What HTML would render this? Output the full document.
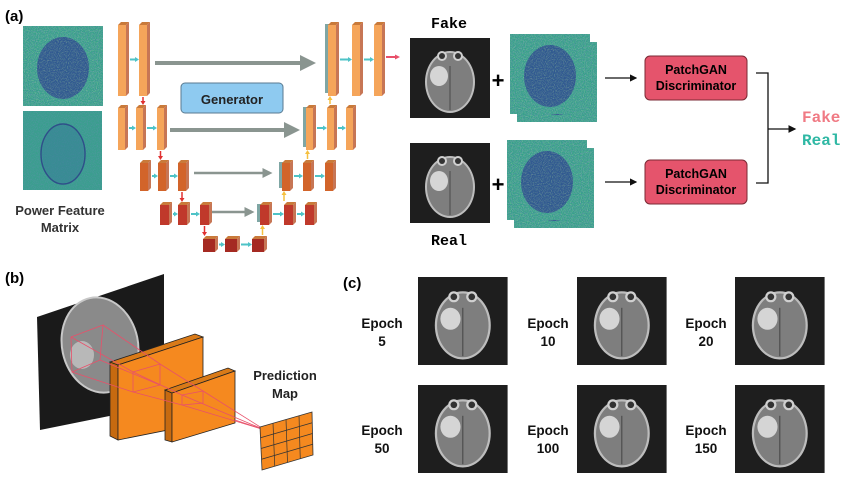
<!DOCTYPE html>
<html><head><meta charset="utf-8"><style>
html,body{margin:0;padding:0;background:#fff;width:850px;height:490px;overflow:hidden}
svg{display:block;font-family:"Liberation Sans",sans-serif}
.b{font-weight:bold}
</style></head><body>
<svg id="s" width="850" height="490" viewBox="0 0 850 490">
<defs>
<filter id="noise" x="0" y="0" width="100%" height="100%">
<feTurbulence type="fractalNoise" baseFrequency="0.9" numOctaves="2" seed="3"/>
<feColorMatrix type="matrix" values="0 0 0 0 0.55  0 0 0 0 0.85  0 0 0 0 0.35  0 0 0 1.6 -0.7"/>
</filter>
<filter id="noise2" x="0" y="0" width="100%" height="100%">
<feTurbulence type="fractalNoise" baseFrequency="1.1" numOctaves="2" seed="11"/>
<feColorMatrix type="matrix" values="0 0 0 0 0.2  0 0 0 0 0.25  0 0 0 0 0.55  0 0 0 1.8 -0.8"/>
</filter>
<marker id="ah" markerWidth="6" markerHeight="6" refX="5" refY="3" orient="auto"><path d="M0,0 L6,3 L0,6 z" fill="#111"/></marker>
<marker id="ahg" markerWidth="4" markerHeight="4" refX="3" refY="2" orient="auto"><path d="M0,0 L4,2 L0,4 z" fill="#8a9590"/></marker>
<g id="brain">
<rect x="0" y="0" width="80" height="80" fill="#1e1e1e"/>
<ellipse cx="40" cy="44" rx="25" ry="31" fill="#bdbdbd"/>
<ellipse cx="40" cy="44" rx="23" ry="29" fill="#7e7e7e"/>
<ellipse cx="32" cy="18" rx="5" ry="5" fill="#d0d0d0"/><ellipse cx="48" cy="18" rx="5" ry="5" fill="#d0d0d0"/>
<ellipse cx="32" cy="18" rx="3" ry="3" fill="#333"/><ellipse cx="48" cy="18" rx="3" ry="3" fill="#333"/>
<ellipse cx="29" cy="38" rx="9" ry="10" fill="#d5d5d5"/>
<line x1="40" y1="28" x2="40" y2="72" stroke="#4a4a4a" stroke-width="1"/>
</g>
<g id="noisyB">
<rect width="80" height="80" fill="#35a08a"/>
<rect width="80" height="80" filter="url(#noise2)"/>
<ellipse cx="40" cy="42" rx="26" ry="31" fill="#2c4390" opacity="0.75"/>
<rect width="80" height="80" filter="url(#noise)" opacity="0.55"/>
</g>
</defs>

<!-- Panel a -->
<text x="5" y="21" class="b" font-size="15">(a)</text>
<g transform="translate(23,26)"><use href="#noisyB"/></g>
<g transform="translate(23,111)">
<rect width="79" height="79" fill="#3a9e8e"/>
<rect width="79" height="79" filter="url(#noise2)" opacity="0.6"/>
<ellipse cx="40" cy="43" rx="21" ry="29" fill="#357a98" opacity="0.5"/>
<ellipse cx="40" cy="43" rx="22" ry="30" fill="none" stroke="#2f4f8a" stroke-width="1.5"/>
</g>
<text x="60" y="215" text-anchor="middle" class="b" font-size="13" fill="#333">Power Feature</text>
<text x="60" y="232" text-anchor="middle" class="b" font-size="13" fill="#333">Matrix</text>

<g id="unet"></g>
<rect x="181" y="83" width="102" height="30" rx="4" fill="#8ecaf0" stroke="#5a7a90" stroke-width="1"/>
<text x="232" y="104" text-anchor="middle" class="b" font-size="13" fill="#222">Generator</text>

<g transform="translate(410,38)"><use href="#brain"/></g>
<text x="449" y="28" text-anchor="middle" font-family="Liberation Mono" class="b" font-size="15">Fake</text>
<text x="498" y="88" text-anchor="middle" class="b" font-size="22">+</text>
<g transform="translate(517,42)"><use href="#noisyB"/></g>
<g transform="translate(510,34)"><use href="#noisyB"/></g>
<line x1="605" y1="78" x2="636" y2="78" stroke="#111" stroke-width="1.2" marker-end="url(#ah)"/>
<rect x="645" y="56" width="102" height="44" rx="5" fill="#e5546c" stroke="#7a2a35"/>
<text x="696" y="74" text-anchor="middle" class="b" font-size="12.5">PatchGAN</text>
<text x="696" y="90" text-anchor="middle" class="b" font-size="12.5">Discriminator</text>

<g transform="translate(410,143)"><use href="#brain"/></g>
<text x="449" y="245" text-anchor="middle" font-family="Liberation Mono" class="b" font-size="15">Real</text>
<text x="498" y="192" text-anchor="middle" class="b" font-size="22">+</text>
<g transform="translate(514,148)"><use href="#noisyB"/></g>
<g transform="translate(507,140)"><use href="#noisyB"/></g>
<line x1="605" y1="182" x2="636" y2="182" stroke="#111" stroke-width="1.2" marker-end="url(#ah)"/>
<rect x="645" y="160" width="102" height="44" rx="5" fill="#e5546c" stroke="#7a2a35"/>
<text x="696" y="178" text-anchor="middle" class="b" font-size="12.5">PatchGAN</text>
<text x="696" y="194" text-anchor="middle" class="b" font-size="12.5">Discriminator</text>
<path d="M756,73 H768 V183 H756" fill="none" stroke="#111" stroke-width="1.3"/>
<line x1="768" y1="129" x2="795" y2="129" stroke="#111" stroke-width="1.3" marker-end="url(#ah)"/>
<text x="802" y="122" font-family="Liberation Mono" class="b" font-size="16" fill="#f07a84">Fake</text>
<text x="802" y="145" font-family="Liberation Mono" class="b" font-size="16" fill="#2fb8a4">Real</text>

<!-- Panel b -->
<text x="5" y="283" class="b" font-size="15">(b)</text>
<polygon points="37,317 164,274 164,405 40,430" fill="#1a1a1a"/>
<ellipse cx="100" cy="345" rx="38" ry="48" transform="rotate(-12 100 345)" fill="#8a8a8a" stroke="#c8c8c8" stroke-width="2"/>
<ellipse cx="82" cy="355" rx="12" ry="14" fill="#b8b8b8"/>
<polygon points="110,362 118,365 118,440 110,436" fill="#c66a10" stroke="#222" stroke-width="0.8"/>
<polygon points="110,362 195,334 203,337 118,365" fill="#d97a18" stroke="#222" stroke-width="0.8"/>
<polygon points="118,365 203,337 203,423 118,440" fill="#f5891f" stroke="#222" stroke-width="0.8"/>
<polygon points="165,390 172,393 172,442 165,440" fill="#c66a10" stroke="#222" stroke-width="0.8"/>
<polygon points="165,390 228,368 235,371 172,393" fill="#d97a18" stroke="#222" stroke-width="0.8"/>
<polygon points="172,393 235,371 235,423 172,442" fill="#f5891f" stroke="#222" stroke-width="0.8"/>
<g stroke="#e8506a" stroke-width="0.8" fill="none">
<polygon points="71,337 103,325 100,360 72,372"/>
<line x1="71" y1="337" x2="133" y2="372"/><line x1="103" y1="325" x2="160" y2="364"/><line x1="72" y1="372" x2="133" y2="392"/><line x1="100" y1="360" x2="160" y2="385"/>
<polygon points="133,372 160,364 160,385 133,392"/>
<line x1="133" y1="372" x2="182" y2="395"/><line x1="160" y1="364" x2="203" y2="391"/><line x1="133" y1="392" x2="182" y2="405"/>
<polygon points="182,395 203,391 203,403 182,405"/>
<line x1="182" y1="395" x2="265" y2="430"/><line x1="203" y1="391" x2="265" y2="430"/><line x1="182" y1="405" x2="265" y2="430"/><line x1="235" y1="420" x2="265" y2="430"/>
</g>
<polygon points="260,427 312,412 313,455 262,470" fill="#f5891f" stroke="#333" stroke-width="0.8"/>
<g id="grid" stroke="#333" stroke-width="0.7"></g>
<text x="285" y="380" text-anchor="middle" class="b" font-size="13" fill="#222">Prediction</text>
<text x="285" y="398" text-anchor="middle" class="b" font-size="13" fill="#222">Map</text>

<!-- Panel c -->
<text x="343" y="288" class="b" font-size="15">(c)</text>
<g id="epochs"></g>
</svg>
<script>
const NS='http://www.w3.org/2000/svg';
const s=document.getElementById('s');
function mk(t,a,p){const e=document.createElementNS(NS,t);for(const k in a)e.setAttribute(k,a[k]);(p||s).appendChild(e);return e;}
const unet=document.getElementById('unet');
const rows=[
 {y:22,h:71,c:'#f5a55a',xs:[118,139],rx:[328,352,374],w:8,a:[155,312,63]},
 {y:105,h:42,c:'#f5a55a',xs:[118,136,157],rx:[306,327,346],w:7,a:[170,296,130]},
 {y:160,h:28,c:'#d2642a',xs:[140,158,178],rx:[282,303,325],w:8,a:[194,270,173]},
 {y:202,h:20,c:'#c0392b',xs:[160,178,200],rx:[260,284,305],w:9,a:[212,252,212]},
 {y:236,h:13,c:'#a52a22',xs:[203,225,252],rx:[],w:12,a:null}
];
rows.forEach((r,i)=>{
 const all=r.xs.concat(r.rx);
 all.forEach((x,j)=>{
  const b=mk('g',{},unet);
  
  
  if(i<4&&j===r.xs.length) mk('rect',{x:x-3,y:r.y+2,width:4,height:r.h-2,fill:'#7fa6a4'},b);
  mk('polygon',{points:`${x},${r.y+3} ${x+3},${r.y} ${x+r.w+3},${r.y} ${x+r.w},${r.y+3}`,fill:'#c97a3a'},b);
  mk('rect',{x:x,y:r.y+3,width:r.w,height:r.h,fill:r.c},b);
  mk('polygon',{points:`${x+r.w},${r.y+3} ${x+r.w+3},${r.y} ${x+r.w+3},${r.y+r.h} ${x+r.w},${r.y+r.h+3}`,fill:'#b9542a',opacity:0.8},b);
  const nx=all[j+1];
  if(nx!==undefined && !(r.rx.length&&j===r.xs.length-1)){
   const cy=r.y+r.h/2+2;
   mk('line',{x1:x+r.w+4,y1:cy,x2:nx-2,y2:cy,stroke:'#4ec3c7','stroke-width':2},unet);
   mk('polygon',{points:`${nx-4},${cy-2.5} ${nx},${cy} ${nx-4},${cy+2.5}`,fill:'#4ec3c7'},unet);
  }
 });
 if(r.a){const l=mk('line',{x1:r.a[0],y1:r.a[2],x2:r.a[1],y2:r.a[2],stroke:'#8a9590','stroke-width':i<2?4:2.5,'marker-end':'url(#ahg)'},unet);
  }
 if(i<4){const nr=rows[i+1];
  const dx=r.xs[r.xs.length-1]+r.w/2;
  mk('line',{x1:dx,y1:r.y+r.h+4,x2:dx,y2:nr.y-2,stroke:'#e03030','stroke-width':1.5},unet);
  mk('polygon',{points:`${dx-2.5},${nr.y-4} ${dx},${nr.y} ${dx+2.5},${nr.y-4}`,fill:'#e03030'},unet);
  const ux2=r.rx[0]+r.w/2-2;
  mk('line',{x1:ux2,y1:nr.y-1,x2:ux2,y2:r.y+r.h+5,stroke:'#f5c040','stroke-width':1.5},unet);
  mk('polygon',{points:`${ux2-2.5},${r.y+r.h+7} ${ux2},${r.y+r.h+3} ${ux2+2.5},${r.y+r.h+7}`,fill:'#f5c040'},unet);
 }
});
mk('line',{x1:386,y1:57,x2:396,y2:57,stroke:'#e8506a','stroke-width':2},unet);
mk('polygon',{points:'395,54.5 400,57 395,59.5',fill:'#e8506a'},unet);
const g=document.getElementById('grid');
const P=[[260,427],[312,412],[313,455],[262,470]];
function lerp(a,b,t){return [a[0]+(b[0]-a[0])*t,a[1]+(b[1]-a[1])*t];}
for(let k=1;k<4;k++){const t=k/4;const a=lerp(P[0],P[1],t),b=lerp(P[3],P[2],t);mk('line',{x1:a[0],y1:a[1],x2:b[0],y2:b[1]},g);
 const c=lerp(P[0],P[3],t),d=lerp(P[1],P[2],t);mk('line',{x1:c[0],y1:c[1],x2:d[0],y2:d[1]},g);}
const epochs=['5','10','20','50','100','150'];
const ex=[[418,530],[577,690],[735,848]];
const ep=document.getElementById('epochs');
epochs.forEach((e,i)=>{
 const col=i%3,row=Math.floor(i/3);
 const x=ex[col][0],y=row?385:277;
 const gg=mk('g',{transform:`translate(${x},${y}) scale(1.12,1.1)`},ep);
 
 
 mk('use',{href:'#brain'},gg);
 const lx=[382,548,706][col], ly=row?435:328;
 const t1=mk('text',{x:lx,y:ly,'text-anchor':'middle','font-size':13.5,'font-weight':'bold',fill:'#111'},ep);
 
 
 t1.textContent='Epoch';
 const t2=mk('text',{x:lx,y:ly+18,'text-anchor':'middle','font-size':13.5,'font-weight':'bold',fill:'#111'},ep);
 
 
 t2.textContent=e;
});
</script>
</body></html>
